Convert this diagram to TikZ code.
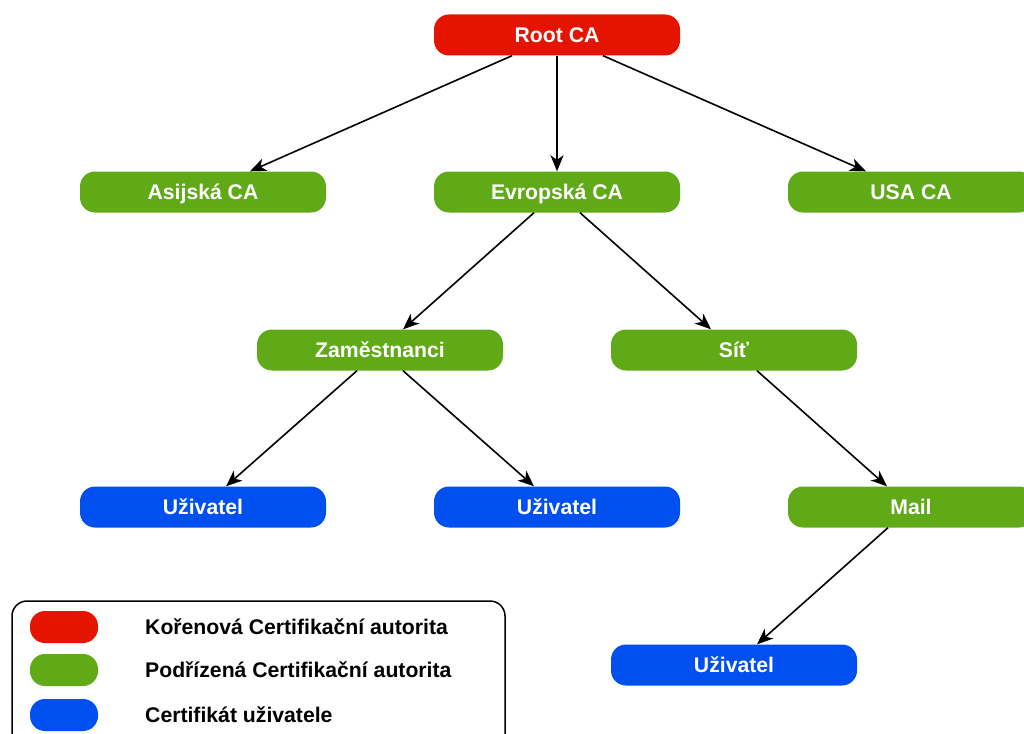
\documentclass[tikz,border=0pt]{standalone}
\usepackage{fontspec}
\setmainfont{Liberation Sans}
\usetikzlibrary{arrows.meta}

\definecolor{rootred}{HTML}{E51400}
\definecolor{subgreen}{HTML}{60A917}
\definecolor{userblue}{HTML}{0050EF}

\tikzset{
  ca/.style={rounded corners=15pt, minimum width=246pt, minimum height=41pt,
    text=white, font=\fontsize{21.2}{25}\selectfont\bfseries, inner sep=0pt,
    text height=17pt, text depth=2pt},
  rootca/.style={ca, fill=rootred},
  subca/.style={ca, fill=subgreen},
  usercert/.style={ca, fill=userblue},
  swatch/.style={rounded corners=15pt, minimum width=68pt, minimum height=32pt, inner sep=0pt},
  legtext/.style={anchor=west, font=\fontsize{21.2}{25}\selectfont\bfseries, inner sep=0pt,
    text height=17pt, text depth=2pt},
  arr/.style={line width=1.6pt, -{Stealth[length=16pt,width=13pt,inset=4.5pt]}}
}

\begin{document}
\begin{tikzpicture}[x=1pt,y=-1pt]
\useasboundingbox (0,0) rectangle (1024,733);

\node[rootca] (root) at (557,35) {Root CA};

\node[subca] (asia) at (203,192) {Asijská CA};
\node[subca] (europe) at (557,192) {Evropská CA};
\node[subca] (usa) at (911,192) {USA CA};

\node[subca] (staff) at (380,350) {Zaměstnanci};
\node[subca] (net) at (734,350) {Síť};

\node[usercert] (user1) at (203,507) {Uživatel};
\node[usercert] (user2) at (557,507) {Uživatel};
\node[subca] (mail) at (911,507) {Mail};

\node[usercert] (user3) at (734,665) {Uživatel};

\draw[arr] ([xshift=-45pt]root.south) -- ([xshift=47pt]asia.north);
\draw[arr] (root.south) -- (europe.north);
\draw[arr] ([xshift=46pt]root.south) -- ([xshift=-45pt]usa.north);

\draw[arr] ([xshift=-23pt]europe.south) -- ([xshift=23pt]staff.north);
\draw[arr] ([xshift=23pt]europe.south) -- ([xshift=-23pt]net.north);

\draw[arr] ([xshift=-23pt]staff.south) -- ([xshift=23pt]user1.north);
\draw[arr] ([xshift=23pt]staff.south) -- ([xshift=-23pt]user2.north);
\draw[arr] ([xshift=23pt]net.south) -- ([xshift=-24pt]mail.north);
\draw[arr] ([xshift=-23pt]mail.south) -- ([xshift=23pt]user3.north);

% legend
\draw[line width=1.5pt, rounded corners=15pt] (12,601) rectangle (505,760);
\node[swatch, fill=rootred] (legroot) at (64,627) {};
\node[swatch, fill=subgreen] (legsub) at (64,670) {};
\node[swatch, fill=userblue] (leguser) at (64,715) {};
\node[legtext] (legroottext) at (145,627) {Kořenová Certifikační autorita};
\node[legtext] (legsubtext) at (145,670) {Podřízená Certifikační autorita};
\node[legtext] (legusertext) at (145,715) {Certifikát uživatele};
\end{tikzpicture}
\end{document}
